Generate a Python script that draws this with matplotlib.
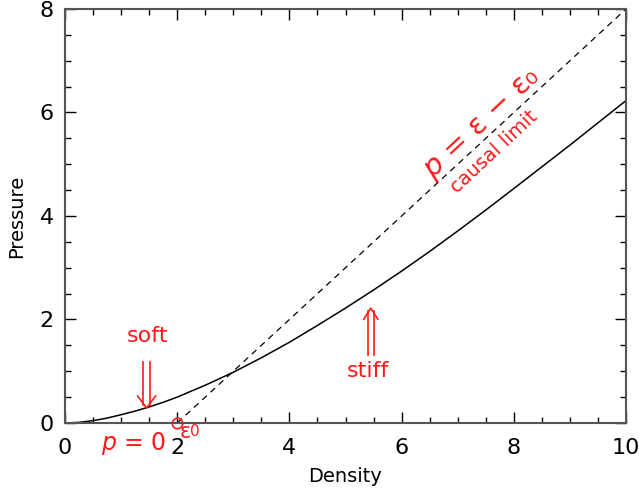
import numpy as np
import matplotlib
matplotlib.use("Agg")
import matplotlib.pyplot as plt
from matplotlib.ticker import MultipleLocator
from matplotlib.transforms import IdentityTransform

# equation of state
density = [0, 0.25, 0.5, 0.75, 1, 1.25, 1.5, 1.75, 2, 2.5, 3, 3.5, 4, 4.5, 5, 5.5, 6,
           6.5, 7, 7.5, 8, 8.5, 9, 9.5, 10]
pressure = [0, 0.012, 0.045, 0.095, 0.16, 0.23, 0.31, 0.40, 0.50, 0.73, 0.98, 1.26, 1.56,
            1.885, 2.22, 2.57, 2.935, 3.315, 3.71, 4.115, 4.53, 4.95, 5.37, 5.80, 6.23]

# causal limit p = eps - eps0 (p = 0 below eps0)
eps0 = 2
limit_x = [0, eps0, 10]
limit_y = [0, 0, 8]

red = "#ff1a1a"

fig = plt.figure(figsize=(6.39, 4.88), dpi=100)
ax = fig.add_axes([0.1017, 0.1332, 0.878, 0.8484])

ax.plot(density, pressure, color="black", lw=1.1)
ax.plot(limit_x, limit_y, color="black", lw=0.9, ls=(0, (5, 4)))
ax.plot([eps0], [0], marker="o", ms=7.5, mfc="none", mec=red, mew=1.2, clip_on=False)

ax.set_xlim(0, 10)
ax.set_ylim(0, 8)
ax.xaxis.set_major_locator(MultipleLocator(2))
ax.xaxis.set_minor_locator(MultipleLocator(0.5))
ax.yaxis.set_major_locator(MultipleLocator(2))
ax.yaxis.set_minor_locator(MultipleLocator(0.5))
ax.tick_params(which="both", direction="in", top=True, right=True, labelsize=16)
ax.tick_params(axis="x", pad=11)
ax.tick_params(axis="y", pad=8)
ax.tick_params(which="major", length=8, width=1)
ax.tick_params(which="minor", length=4.5, width=1)
for s in ax.spines.values():
    s.set_color("#555555")
    s.set_linewidth(1.5)

ax.set_xlabel("Density", fontsize=14, labelpad=6)
ax.set_ylabel("Pressure", fontsize=14, labelpad=10)


def double_arrow(x, y_tip, y_tail, gap=3.5, head_w=9, head_h=12):
    # two parallel shafts with an open V head, sized in pixels
    tx, ty = ax.transData.transform((x, y_tip))
    _, tail = ax.transData.transform((x, y_tail))
    sgn = 1 if tail < ty else -1
    kw = dict(color=red, lw=1.2, transform=IdentityTransform(), clip_on=False)
    for off in (-gap, gap):
        ax.plot([tx + off, tx + off], [tail, ty - sgn * 3], **kw)
    ax.plot([tx - head_w, tx, tx + head_w], [ty - sgn * head_h, ty, ty - sgn * head_h], **kw)


# annotations
ax.text(1.47, 1.68, "soft", color=red, fontsize=16, ha="center", va="center")
double_arrow(1.455, 0.29, 1.18)
ax.text(5.40, 1.0, "stiff", color=red, fontsize=16, ha="center", va="center")
double_arrow(5.45, 2.22, 1.31, gap=3, head_w=7, head_h=11)
ax.text(1.23, -0.39, "$p$ = 0", color=red, fontsize=17, ha="center", va="center", clip_on=False)
ax.text(2.14, -0.17, "\u03b5", color=red, fontsize=15, ha="center", va="center", clip_on=False)
ax.text(2.32, -0.17, "0", color=red, fontsize=11, ha="center", va="center", clip_on=False)
ax.text(7.45, 5.78, "$p$ = \u03b5 \u2212 \u03b5\u2080", color=red, fontsize=21,
        rotation=43, rotation_mode="anchor", ha="center", va="center")
ax.text(7.65, 5.24, "causal limit", color=red, fontsize=14,
        rotation=43, rotation_mode="anchor", ha="center", va="center")

fig.savefig("out.png", dpi=100)
